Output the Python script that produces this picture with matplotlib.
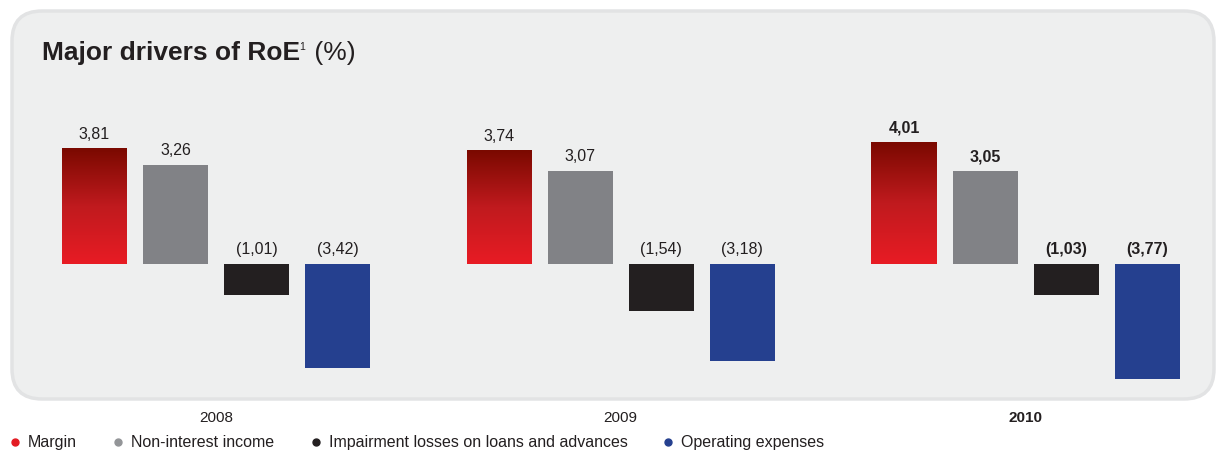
import numpy as np
import matplotlib
matplotlib.use("Agg")
import matplotlib.pyplot as plt
from matplotlib.patches import FancyBboxPatch
from matplotlib.transforms import IdentityTransform
from matplotlib.colors import LinearSegmentedColormap

# ---------------- data ----------------
years = ["2008", "2009", "2010"]
series = ["Margin", "Non-interest income",
          "Impairment losses on loans and advances", "Operating expenses"]
margin = [3.81, 3.74, 4.01]
non_interest_income = [3.26, 3.07, 3.05]
impairment_losses = [-1.01, -1.54, -1.03]
operating_expenses = [-3.42, -3.18, -3.77]
bold_year = "2010"

values = [margin, non_interest_income, impairment_losses, operating_expenses]

# ---------------- style ----------------
plt.rcParams['font.family'] = ['Liberation Sans', 'DejaVu Sans']
W, H = 1218, 452
DPI = 100
fig = plt.figure(figsize=(W / DPI, H / DPI), dpi=DPI)
fig.patch.set_facecolor("white")

bg = "#eeefef"
border = "#e2e3e4"
solid_colors = [None, "#818286", "#231f20", "#25408f"]
legend_colors = ["#e31b23", "#939598", "#231f20", "#25408f"]
txt = "#231f20"

# rounded panel (pixel coordinates)
panel = FancyBboxPatch((12, H - 400), 1202, 388,
                       boxstyle="round,pad=0,rounding_size=30",
                       transform=IdentityTransform(), facecolor=bg,
                       edgecolor=border, linewidth=2.5, zorder=-5)
fig.patches.append(panel)

ax = fig.add_axes([0, 0, 1, 1])
ax.set_zorder(2)
ax.patch.set_visible(False)
for s in ax.spines.values():
    s.set_visible(False)
ax.set_xticks([])
ax.set_yticks([])

# scales: group step 404.75 px, 30.4 px per unit, zero line at y=265 px
step_px = 404.75
x0_px = 216.0
ppu = 30.4
zero_px = 265.0

bw = 65 / step_px
offs = np.array([-1.5, -0.5, 0.5, 1.5]) * (81 / step_px)

red_cmap = LinearSegmentedColormap.from_list("r", ["#e81c24", "#c01a1e", "#7a0900"])
grad = np.linspace(0, 1, 256).reshape(-1, 1)

for gi, yr in enumerate(years):
    weight = "bold" if yr == bold_year else "normal"
    for si in range(4):
        v = values[si][gi]
        xc = gi + offs[si]
        if si == 0:
            ax.imshow(grad, cmap=red_cmap, origin="lower", aspect="auto",
                      extent=(xc - bw / 2, xc + bw / 2, 0, v), zorder=2,
                      interpolation="bilinear")
        else:
            ax.bar(xc, v, width=bw, color=solid_colors[si], zorder=2,
                   linewidth=0)
        lbl = f"{abs(v):.2f}".replace(".", ",")
        if v < 0:
            lbl = f"({lbl})"
        ytop = max(v, 0)
        ax.annotate(lbl, (xc, ytop), xytext=(0, 5.5), textcoords="offset points",
                    ha="center", va="bottom", fontsize=11.5, color=txt,
                    fontweight=weight)
    ax.text(gi, -(418 - zero_px) / ppu, yr, ha="center", va="center",
            fontsize=11, color=txt, fontweight=weight)

ax.set_xlim(-x0_px / step_px, (W - x0_px) / step_px)
ax.set_ylim(-(H - zero_px) / ppu, zero_px / ppu)

# title
t1 = fig.text(42 / W, 1 - 60 / H, "Major drivers of RoE", fontsize=19,
              fontweight="bold", color=txt, ha="left", va="baseline")
t2 = ax.annotate("1", xy=(1, 1), xycoords=t1, xytext=(-0.5, -0.5),
                 textcoords="offset points", fontsize=7.5, color=txt,
                 ha="left", va="top")
t3 = ax.annotate(" (%)", xy=(1, 0), xycoords=t1, xytext=(5, 0),
                 textcoords="offset points", fontsize=19, color=txt,
                 ha="left", va="bottom")

# legend
leg_x = [15, 118, 316, 668]
leg_y = 1 - 443 / H
for lx, name, c in zip(leg_x, series, legend_colors):
    fig.lines.append(plt.Line2D([lx / W], [leg_y], marker="o", markersize=5,
                                color=c, linestyle="none",
                                transform=fig.transFigure))
    fig.text((lx + 13) / W, leg_y, name, fontsize=11.5, color=txt,
             ha="left", va="center")

fig.savefig("out.png", dpi=DPI, facecolor="white")
